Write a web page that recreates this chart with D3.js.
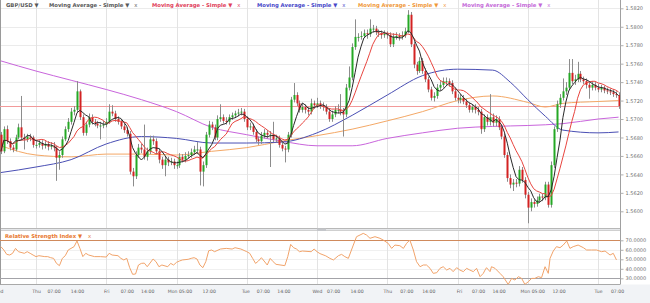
<!DOCTYPE html>
<html>
<head>
<meta charset="utf-8">
<script src="https://cdn.jsdelivr.net/npm/d3@7"></script>
<style>
    body { margin: 0; background: #fff; }
    svg text { font-family: "DejaVu Sans", Verdana, sans-serif; }
</style>
</head>
<body>
<svg id="chart" width="650" height="303"></svg>
<script>
// hours are counted from Thu 00:00, first candle is Wed 12:00
var hourStart = -12;
var firstOpen = 1.5683;

var closes = [
    1.5665,1.5689,1.5676,1.5669,1.5667,1.5680,1.5691,1.5680,1.5678,1.5681,1.5680,1.5672, // Wed
    1.5672,1.5674,1.5671,1.5673,1.5670,1.5671,1.5669,1.5658,1.5661,1.5678,1.5689,1.5697,1.5708,1.5710,1.5730,1.5702,1.5685,1.5694,1.5702,1.5697,1.5695,1.5693,1.5693,1.5694, // Thu
    1.5697,1.5708,1.5706,1.5700,1.5697,1.5692,1.5688,1.5684,1.5643,1.5638,1.5661,1.5669,1.5667,1.5659,1.5665,1.5678,1.5676,1.5665,1.5656,1.5650,1.5656,1.5653,1.5654,1.5650, // Fri
    1.5650,1.5659,1.5656,1.5660,1.5661,1.5664,1.5667,1.5667,1.5643,1.5650,1.5683,1.5694,1.5691,1.5680,1.5700,1.5702,1.5698,1.5697,1.5702,1.5704,1.5706,1.5707,1.5708,1.5700, // Mon
    1.5691,1.5692,1.5686,1.5678,1.5676,1.5682,1.5685,1.5683,1.5683,1.5678,1.5679,1.5672,1.5668,1.5667,1.5683,1.5721,1.5726,1.5717,1.5710,1.5713,1.5710,1.5708,1.5717,1.5715, // Tue
    1.5717,1.5715,1.5713,1.5708,1.5700,1.5705,1.5710,1.5710,1.5708,1.5705,1.5734,1.5745,1.5778,1.5789,1.5789,1.5790,1.5793,1.5792,1.5798,1.5798,1.5794,1.5793,1.5791,1.5792, // Wed
    1.5791,1.5781,1.5789,1.5790,1.5789,1.5791,1.5795,1.5813,1.5781,1.5759,1.5752,1.5763,1.5752,1.5743,1.5732,1.5723,1.5725,1.5734,1.5737,1.5741,1.5741,1.5739,1.5730,1.5723, // Thu
    1.5721,1.5723,1.5719,1.5715,1.5710,1.5713,1.5710,1.5708,1.5689,1.5702,1.5697,1.5702,1.5696,1.5700,1.5691,1.5681,1.5661,1.5636,1.5629,1.5631,1.5630,1.5645,1.5634,1.5618, // Fri
    1.5604,1.5610,1.5608,1.5612,1.5616,1.5615,1.5629,1.5607,1.5650,1.5689,1.5716,1.5723,1.5730,1.5734,1.5750,1.5741,1.5743,1.5749,1.5743,1.5741,1.5737,1.5734,1.5737,1.5734, // Mon
    1.5732,1.5734,1.5731,1.5730,1.5729,1.5727,1.5726,1.5714 // Tue
];

var highs = [
    1.5686,1.5692,1.5693,1.5679,1.5672,1.5683,1.5695,1.5725,1.5684,1.5684,1.5684,1.5682,
    1.5676,1.5677,1.5677,1.5676,1.5676,1.5675,1.5675,1.5671,1.5665,1.5681,1.5692,1.5701,1.5712,1.5714,1.5741,1.5732,1.5705,1.5697,1.5706,1.5705,1.5700,1.5698,1.5697,1.5698,
    1.5701,1.5716,1.5715,1.5709,1.5703,1.5700,1.5695,1.5691,1.5687,1.5647,1.5665,1.5673,1.5673,1.5694,1.5669,1.5682,1.5682,1.5679,1.5668,1.5659,1.5660,1.5659,1.5658,1.5657,
    1.5654,1.5663,1.5662,1.5664,1.5665,1.5668,1.5671,1.5675,1.5670,1.5654,1.5686,1.5698,1.5697,1.5694,1.5704,1.5716,1.5705,1.5702,1.5705,1.5707,1.5709,1.5711,1.5712,1.5711,
    1.5703,1.5696,1.5695,1.5689,1.5681,1.5686,1.5689,1.5688,1.5687,1.5697,1.5683,1.5682,1.5675,1.5671,1.5686,1.5724,1.5739,1.5729,1.5720,1.5717,1.5716,1.5713,1.5722,1.5720,
    1.5723,1.5720,1.5718,1.5716,1.5711,1.5709,1.5714,1.5716,1.5727,1.5712,1.5738,1.5757,1.5782,1.5808,1.5793,1.5795,1.5797,1.5797,1.5808,1.5802,1.5801,1.5797,1.5796,1.5796,
    1.5795,1.5794,1.5793,1.5794,1.5793,1.5795,1.5799,1.5818,1.5816,1.5784,1.5762,1.5767,1.5766,1.5755,1.5746,1.5735,1.5729,1.5738,1.5741,1.5745,1.5745,1.5744,1.5742,1.5733,
    1.5727,1.5727,1.5726,1.5722,1.5718,1.5716,1.5716,1.5713,1.5711,1.5705,1.5705,1.5727,1.5706,1.5704,1.5703,1.5694,1.5684,1.5664,1.5640,1.5635,1.5635,1.5649,1.5648,1.5637,
    1.5621,1.5614,1.5613,1.5616,1.5619,1.5619,1.5632,1.5632,1.5654,1.5692,1.5720,1.5727,1.5744,1.5740,1.5765,1.5765,1.5748,1.5762,1.5752,1.5746,1.5744,1.5740,1.5741,1.5740,
    1.5738,1.5737,1.5736,1.5734,1.5733,1.5732,1.5730,1.5729
];

var lows = [
    1.5662,1.5663,1.5673,1.5666,1.5664,1.5665,1.5678,1.5677,1.5667,1.5675,1.5676,1.5669,
    1.5668,1.5669,1.5667,1.5668,1.5666,1.5667,1.5665,1.5633,1.5645,1.5658,1.5676,1.5686,1.5694,1.5704,1.5707,1.5699,1.5682,1.5682,1.5691,1.5694,1.5692,1.5690,1.5678,1.5690,
    1.5691,1.5695,1.5703,1.5697,1.5694,1.5689,1.5685,1.5681,1.5640,1.5627,1.5635,1.5658,1.5663,1.5656,1.5655,1.5662,1.5672,1.5662,1.5652,1.5646,1.5638,1.5649,1.5650,1.5646,
    1.5646,1.5647,1.5653,1.5653,1.5657,1.5658,1.5661,1.5662,1.5628,1.5627,1.5647,1.5680,1.5688,1.5677,1.5677,1.5697,1.5695,1.5694,1.5694,1.5699,1.5701,1.5703,1.5704,1.5697,
    1.5688,1.5688,1.5683,1.5675,1.5672,1.5673,1.5679,1.5679,1.5648,1.5675,1.5675,1.5669,1.5665,1.5653,1.5664,1.5680,1.5718,1.5714,1.5707,1.5707,1.5706,1.5704,1.5705,1.5711,
    1.5712,1.5711,1.5709,1.5705,1.5697,1.5697,1.5702,1.5706,1.5704,1.5681,1.5702,1.5731,1.5742,1.5775,1.5784,1.5786,1.5788,1.5787,1.5789,1.5794,1.5791,1.5789,1.5787,1.5788,
    1.5787,1.5778,1.5778,1.5786,1.5785,1.5786,1.5788,1.5793,1.5778,1.5755,1.5748,1.5750,1.5749,1.5740,1.5729,1.5720,1.5719,1.5722,1.5731,1.5734,1.5737,1.5735,1.5727,1.5720,
    1.5717,1.5717,1.5716,1.5712,1.5707,1.5707,1.5706,1.5704,1.5684,1.5686,1.5693,1.5693,1.5692,1.5692,1.5688,1.5678,1.5658,1.5632,1.5625,1.5622,1.5626,1.5627,1.5631,1.5614,
    1.5587,1.5600,1.5604,1.5605,1.5609,1.5611,1.5612,1.5604,1.5604,1.5647,1.5686,1.5712,1.5720,1.5726,1.5731,1.5738,1.5737,1.5740,1.5740,1.5738,1.5733,1.5722,1.5731,1.5731,
    1.5729,1.5729,1.5728,1.5727,1.5726,1.5724,1.5723,1.5711
];

// short averages are computed from the closes
var blackPeriod = 5;
var redPeriod = 10;

// long averages
var blueHours = [-12, 0, 12, 24, 36, 48, 60, 72, 84, 96, 108, 120, 132, 144, 156, 162, 168, 174, 180, 192, 199];
var blueMA = [1.5642, 1.5648, 1.5656, 1.5673, 1.5681, 1.5679, 1.5674, 1.5674, 1.5675, 1.5685, 1.5704, 1.5726, 1.5747, 1.5754, 1.5753, 1.5740, 1.5721, 1.5703, 1.5688, 1.5685, 1.5686];
var orangeHours = [-12, 0, 12, 24, 36, 48, 60, 72, 84, 96, 108, 120, 132, 144, 156, 168, 174, 180, 192, 199];
var orangeMA = [1.5671, 1.5661, 1.5659, 1.5662, 1.5662, 1.5661, 1.5665, 1.5669, 1.5676, 1.5682, 1.5689, 1.5698, 1.5708, 1.5720, 1.5725, 1.5718, 1.5713, 1.5717, 1.5719, 1.5720];
var violetHours = [-12, 0, 12, 24, 36, 48, 60, 72, 84, 96, 108, 120, 132, 144, 156, 168, 180, 192, 199];
var violetMA = [1.5763, 1.5752, 1.5742, 1.5732, 1.5721, 1.5708, 1.5691, 1.5683, 1.5676, 1.5671, 1.5671, 1.5679, 1.5685, 1.5690, 1.5692, 1.5693, 1.5695, 1.5700, 1.5702];

var rsiHours = [-12, -11, -10, -9, -8, -7, -6, -4, -3, -2, -1, 0, 1, 3, 4, 5, 6, 7, 8, 9, 10, 11, 13, 14, 15, 16, 17, 18, 20, 22,
    24, 25, 26, 28, 29, 30, 31, 32, 33, 34, 35, 36, 37, 38, 40, 41, 42, 43, 45, 46, 47, 48, 49, 50, 52, 53, 54, 55, 56, 57,
    58, 59, 60, 61, 63, 65, 67, 68, 70, 72, 73, 74, 75, 76, 77, 79, 80, 81, 82, 85, 86, 87, 88, 89, 90, 91, 94, 95, 96, 97,
    99, 100.4, 101.6, 103.3, 104.4, 105.5, 106.7, 108.4, 109.5, 110.7, 111.8, 112.9, 114.1, 115.8, 117.5, 118.6, 120.3, 121.5, 122.6, 124.3,
    125.5, 126.6, 127.7, 128.9, 130, 131.2, 132.3, 133.4, 134.6, 135.7, 136.9, 138, 139.1, 140.3, 141.4, 142.5, 143.7, 144.8, 146, 147.1,
    148.2, 149.4, 150.5, 151.7, 152.8, 153.4, 153.9, 155.1, 155.6, 156.8, 158.5, 159.6, 161.3, 162.5, 163.6, 164.8, 165.9, 167, 168.2, 169.3,
    170.4, 171.6, 172.7, 173.9, 175, 175.6, 176.7, 177.8, 179, 180.1, 181.3, 182.4, 183.5, 185.2, 187, 188.1, 189.8, 191.5, 193.2, 194.4,
    196.1, 197.2, 198.3];
var rsiValues = [63.3, 59.8, 55.2, 54.5, 56.3, 61.5, 58.0, 56.3, 58.0, 56.3, 54.5, 52.8, 53.8, 52.8, 52.8, 51.7, 51.0, 45.7, 43.3, 51.0, 53.8, 59.8, 63.3, 69.3, 61.5, 52.8, 56.3, 54.5, 52.8, 52.8,
    52.4, 56.3, 54.5, 53.8, 51.0, 49.3, 51.0, 41.2, 34.2, 34.5, 44.0, 45.7, 46.0, 42.2, 50.3, 47.5, 42.2, 44.0, 42.2, 45.7, 44.0, 46.8, 48.2, 49.3, 50.0, 51.0, 51.7, 50.3, 44.0, 41.2,
    47.5, 59.0, 59.8, 58.0, 60.8, 61.5, 60.8, 62.2, 60.8, 58.0, 56.3, 51.0, 45.7, 48.2, 51.7, 44.0, 51.0, 47.5, 44.7, 43.3, 52.8, 65.7, 62.2, 60.8, 58.0, 58.7, 58.0, 60.8, 58.0, 56.0,
    53.6, 51.0, 49.3, 53.8, 55.2, 52.8, 51.0, 65.0, 73.8, 75.6, 77.3, 75.6, 72.1, 73.8, 72.1, 70.3, 66.8, 61.5, 65.0, 64.3,
    61.5, 66.8, 70.3, 59.8, 47.5, 42.2, 44.0, 44.0, 40.5, 35.2, 35.9, 40.5, 42.2, 38.7, 40.5, 37.0, 41.2, 38.7, 37.0, 40.5,
    38.7, 37.0, 40.5, 31.7, 35.2, 38.7, 41.2, 37.0, 42.2, 40.5, 35.2, 31.7, 23.6, 29.9, 28.2, 31.7, 29.9, 23.6, 26.4, 29.9,
    29.9, 31.7, 30.7, 42.2, 35.2, 51.0, 58.7, 63.3, 62.2, 65.0, 69.3, 61.5, 63.3, 65.0, 62.2, 59.8, 59.8, 59.8, 58.0, 58.7,
    54.5, 56.3, 49.3];

var priceTicks = [1.5600, 1.5620, 1.5640, 1.5660, 1.5680, 1.5700, 1.5720, 1.5740, 1.5760, 1.5780, 1.5800, 1.5820];
var rsiTicks = [30, 40, 50, 60, 70];
var dayHours = [0, 24, 48, 72, 96, 120, 144, 168, 192];
var timeTickHours = [-13, 0, 6, 14, 24, 31, 38, 49, 59, 71.5, 77.5, 84.5, 96, 101.5, 109.5, 120, 126.5, 134, 144.5, 151, 158, 169.5, 178.5, 192, 198.5];
var timeTickLabels = ["Wed", "Thu", "07:00", "14:00", "Fri", "07:00", "14:00", "Mon 05:00", "12:00", "Tue", "07:00", "14:00", "Wed", "07:00", "14:00",
    "Thu", "07:00", "14:00", "Fri", "07:00", "14:00", "Mon 05:00", "12:00", "Tue", "07:00"];

var legendLabels = ["Moving Average - Simple \u25BC", "Moving Average - Simple \u25BC", "Moving Average - Simple \u25BC",
    "Moving Average - Simple \u25BC", "Moving Average - Simple \u25BC"];


function PriceChart(svgID) {
    var self = this;

    self.svg = d3.select(svgID);
    self.plotRight = 620;
    self.mainBottom = 228;
    self.rsiTop = 231;
    self.rsiBottom = 284.5;

    self.init();
}

PriceChart.prototype.init = function () {
    var self = this;

    self.candles = closes.map(function (c, i) {
        var open = i === 0 ? firstOpen : closes[i - 1];
        return {
            hour: hourStart + i,
            open: open,
            close: c,
            high: Math.max(highs[i], open, c),
            low: Math.min(lows[i], open, c)
        };
    });

    self.scaleX = d3.scaleLinear()
        .domain([-12.3, 199.5])
        .range([0, self.plotRight]);

    self.scaleY = d3.scaleLinear()
        .domain([1.5600, 1.5820])
        .range([211.3, 8.3]);

    self.scaleRsi = d3.scaleLinear()
        .domain([30, 70])
        .range([278.3, 240.3]);

    var defs = self.svg.append('defs');
    defs.append('clipPath').attr('id', 'clipMain')
        .append('rect').attr('x', 0).attr('y', 0)
        .attr('width', self.plotRight).attr('height', self.mainBottom);
    defs.append('clipPath').attr('id', 'clipRsi')
        .append('rect').attr('x', 0).attr('y', self.rsiTop)
        .attr('width', self.plotRight).attr('height', self.rsiBottom - self.rsiTop);

    self.drawFrame();
    self.drawMain();
    self.drawRsi();
    self.drawLegends();
};

// simple moving average over the closes, partial window at the start
PriceChart.prototype.sma = function (period) {
    return closes.map(function (c, i) {
        var win = closes.slice(Math.max(0, i - period + 1), i + 1);
        return {hour: hourStart + i, value: d3.mean(win)};
    });
};

PriceChart.prototype.drawFrame = function () {
    var self = this;
    var svg = self.svg;

    svg.append('rect').attr('width', 650).attr('height', 303).attr('fill', '#ffffff');
    svg.append('rect').attr('x', 0).attr('y', self.rsiBottom)
        .attr('width', 650).attr('height', 303 - self.rsiBottom).attr('fill', '#f1f3f6');

    // horizontal grid (price)
    svg.selectAll('.hgrid')
        .data(priceTicks)
        .enter().append('line')
        .classed('hgrid', true)
        .attr('x1', 0).attr('x2', self.plotRight)
        .attr('y1', function (d) { return Math.round(self.scaleY(d)) + 0.5; })
        .attr('y2', function (d) { return Math.round(self.scaleY(d)) + 0.5; })
        .style('stroke', '#ebebeb');

    // rsi grid
    svg.selectAll('.rgrid')
        .data([40, 50, 60])
        .enter().append('line')
        .classed('rgrid', true)
        .attr('x1', 0).attr('x2', self.plotRight)
        .attr('y1', function (d) { return Math.round(self.scaleRsi(d)) + 0.5; })
        .attr('y2', function (d) { return Math.round(self.scaleRsi(d)) + 0.5; })
        .style('stroke', '#f0f0f0');

    // day separators in both panels
    [[0, self.mainBottom], [self.rsiTop, self.rsiBottom]].forEach(function (span) {
        svg.selectAll(null)
            .data(dayHours)
            .enter().append('line')
            .attr('x1', function (d) { return Math.round(self.scaleX(d)) + 0.5; })
            .attr('x2', function (d) { return Math.round(self.scaleX(d)) + 0.5; })
            .attr('y1', span[0]).attr('y2', span[1])
            .style('stroke', '#e3e3e3');
    });

    // splitter between panels
    svg.append('rect').attr('x', 0).attr('y', self.mainBottom)
        .attr('width', self.plotRight).attr('height', self.rsiTop - self.mainBottom)
        .attr('fill', '#e6e8eb');
    svg.append('line').attr('x1', 0).attr('x2', self.plotRight)
        .attr('y1', self.mainBottom + 0.5).attr('y2', self.mainBottom + 0.5)
        .style('stroke', '#b8b8b8');
    svg.append('line').attr('x1', 0).attr('x2', self.plotRight)
        .attr('y1', self.rsiTop - 0.5).attr('y2', self.rsiTop - 0.5)
        .style('stroke', '#cfcfcf');
    svg.append('rect').attr('x', 317).attr('y', self.mainBottom + 0.5)
        .attr('width', 9).attr('height', 2.5).attr('fill', '#c4c6ca');

    svg.append('line').attr('x1', 0).attr('x2', self.plotRight)
        .attr('y1', self.rsiBottom).attr('y2', self.rsiBottom)
        .style('stroke', '#a9a9a9');
    svg.append('line').attr('x1', 0.5).attr('x2', 0.5)
        .attr('y1', 0).attr('y2', self.rsiBottom)
        .style('stroke', '#9a9a9a');
};

PriceChart.prototype.drawMain = function () {
    var self = this;

    var g = self.svg.append('g').attr('clip-path', 'url(#clipMain)');

    var line = d3.line()
        .x(function (d) { return self.scaleX(d.hour); })
        .y(function (d) { return self.scaleY(d.value); });
    var smooth = d3.line()
        .curve(d3.curveMonotoneX)
        .x(function (d) { return self.scaleX(d.hour); })
        .y(function (d) { return self.scaleY(d.value); });

    function pairs(hours, values) {
        return hours.map(function (h, i) { return {hour: h, value: values[i]}; });
    }

    // last price line
    var last = closes[closes.length - 1];
    g.append('line')
        .attr('x1', 0).attr('x2', self.plotRight)
        .attr('y1', Math.round(self.scaleY(last)) + 0.5)
        .attr('y2', Math.round(self.scaleY(last)) + 0.5)
        .style('stroke', '#f29a9a');

    g.append('path').attr('d', smooth(pairs(violetHours, violetMA)))
        .style('fill', 'none').style('stroke', '#c965dc').style('stroke-width', 1);
    g.append('path').attr('d', smooth(pairs(orangeHours, orangeMA)))
        .style('fill', 'none').style('stroke', '#f4a866').style('stroke-width', 1);
    g.append('path').attr('d', smooth(pairs(blueHours, blueMA)))
        .style('fill', 'none').style('stroke', '#4a4fb4').style('stroke-width', 1);

    var candles = g.selectAll('.candle')
        .data(self.candles)
        .enter().append('g')
        .classed('candle', true);

    candles.append('line')
        .attr('x1', function (d) { return Math.round(self.scaleX(d.hour)) + 0.5; })
        .attr('x2', function (d) { return Math.round(self.scaleX(d.hour)) + 0.5; })
        .attr('y1', function (d) { return self.scaleY(d.high); })
        .attr('y2', function (d) { return self.scaleY(d.low); })
        .style('stroke', '#8c8c8c');

    candles.append('rect')
        .attr('x', function (d) { return Math.round(self.scaleX(d.hour)) - 0.5; })
        .attr('width', 2)
        .attr('y', function (d) { return self.scaleY(Math.max(d.open, d.close)); })
        .attr('height', function (d) {
            return Math.max(1, Math.abs(self.scaleY(d.open) - self.scaleY(d.close)));
        })
        .style('fill', function (d) { return d.close >= d.open ? '#25a825' : '#d32222'; });

    g.append('path').attr('d', line(self.sma(redPeriod)))
        .style('fill', 'none').style('stroke', '#e8453f').style('stroke-width', 1);
    g.append('path').attr('d', line(self.sma(blackPeriod)))
        .style('fill', 'none').style('stroke', '#2a2a2a').style('stroke-width', 1);

    // price axis
    var axis = self.svg.append('g')
        .attr('transform', 'translate(' + (self.plotRight + 0.5) + ',0)')
        .call(d3.axisRight(self.scaleY)
            .tickValues(priceTicks)
            .tickFormat(d3.format('.4f'))
            .tickSize(3)
            .tickPadding(2));
    axis.select('.domain').attr('d', 'M0,0V' + self.rsiBottom).style('stroke', '#a0a0a0');
    axis.selectAll('.tick line').style('stroke', '#b0b0b0');
    axis.selectAll('text').style('font-size', '5px').style('fill', '#707070')
        .style('font-family', '"DejaVu Sans", Verdana, sans-serif');
};

PriceChart.prototype.drawRsi = function () {
    var self = this;

    var g = self.svg.append('g').attr('clip-path', 'url(#clipRsi)');

    g.append('line')
        .attr('x1', 0).attr('x2', self.plotRight)
        .attr('y1', Math.round(self.scaleRsi(70)) + 0.5)
        .attr('y2', Math.round(self.scaleRsi(70)) + 0.5)
        .style('stroke', '#d08a5c');
    g.append('line')
        .attr('x1', 0).attr('x2', self.plotRight)
        .attr('y1', Math.round(self.scaleRsi(30)) + 0.5)
        .attr('y2', Math.round(self.scaleRsi(30)) + 0.5)
        .style('stroke', '#a3a3a8');

    var rsiLine = d3.line()
        .x(function (d, i) { return self.scaleX(rsiHours[i]); })
        .y(function (d) { return self.scaleRsi(d); });

    g.append('path').attr('d', rsiLine(rsiValues))
        .style('fill', 'none').style('stroke', '#f1a36a').style('stroke-width', 1);

    var axis = self.svg.append('g')
        .attr('transform', 'translate(' + (self.plotRight + 0.5) + ',0)')
        .call(d3.axisRight(self.scaleRsi)
            .tickValues(rsiTicks)
            .tickFormat(d3.format('.4f'))
            .tickSize(3)
            .tickPadding(2));
    axis.select('.domain').remove();
    axis.selectAll('.tick line').style('stroke', '#b0b0b0');
    axis.selectAll('text').style('font-size', '5px').style('fill', '#707070')
        .style('font-family', '"DejaVu Sans", Verdana, sans-serif');

    // time axis
    var xAxis = self.svg.append('g')
        .attr('transform', 'translate(0,' + (self.rsiBottom + 3) + ')')
        .call(d3.axisBottom(self.scaleX)
            .tickValues(timeTickHours)
            .tickFormat(function (d, i) { return timeTickLabels[i]; })
            .tickSize(0)
            .tickPadding(2));
    xAxis.select('.domain').remove();
    xAxis.selectAll('text').style('font-size', '4.6px').style('fill', '#606060')
        .style('font-family', '"DejaVu Sans", Verdana, sans-serif');
};

PriceChart.prototype.drawLegends = function () {
    var self = this;
    var svg = self.svg;

    var colors = ['#585858', '#e0405a', '#4747c8', '#f09838', '#c468d8'];
    var starts = [49, 152, 257, 358, 462];
    var size = '5.3px';

    svg.append('text')
        .attr('x', 6).attr('y', 6.5)
        .style('font-size', size).style('font-weight', 'bold').style('fill', '#585858')
        .text('GBP/USD \u25BC');

    legendLabels.forEach(function (label, i) {
        var t = svg.append('text')
            .attr('x', starts[i]).attr('y', 6.5)
            .style('font-size', size).style('font-weight', 'bold').style('fill', colors[i])
            .text(label);
        var w = t.node().getComputedTextLength();
        svg.append('text')
            .attr('x', starts[i] + w + 5).attr('y', 6.5)
            .style('font-size', size).style('fill', colors[i])
            .text('x');
    });

    var r = svg.append('text')
        .attr('x', 5).attr('y', self.rsiTop + 6.5)
        .style('font-size', size).style('font-weight', 'bold').style('fill', '#e8782e')
        .text('Relative Strength Index \u25BC');
    svg.append('text')
        .attr('x', 5 + r.node().getComputedTextLength() + 6).attr('y', self.rsiTop + 6.5)
        .style('font-size', size).style('fill', '#e8782e')
        .text('x');
};

new PriceChart('#chart');
</script>
</body>
</html>
